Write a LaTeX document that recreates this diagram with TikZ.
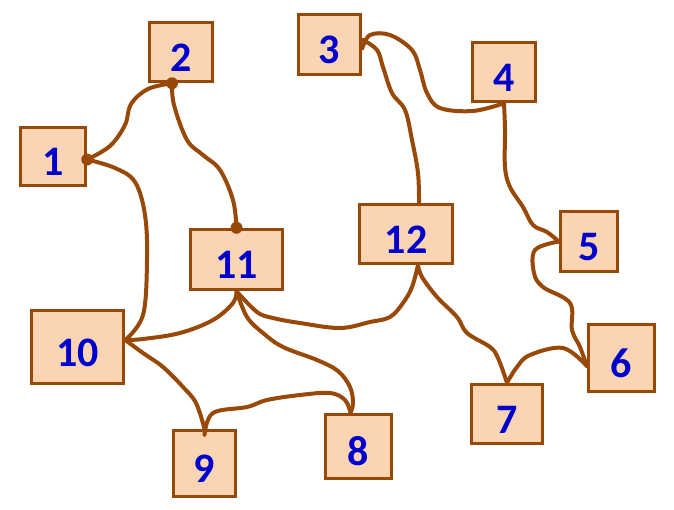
\documentclass[tikz,border=0pt]{standalone}
\usepackage{fontspec}
\newfontfamily\numfont{Carlito}
\definecolor{boxfill}{HTML}{FBD4B4}
\definecolor{wirebrown}{HTML}{984807}
\definecolor{numblue}{HTML}{0000CC}
\usetikzlibrary{positioning}

\tikzset{
    numbox/.style={draw=wirebrown, line width=3.5pt, fill=boxfill, inner sep=0pt,
        text=numblue, font=\numfont\bfseries\fontsize{42}{42}\selectfont,
        text height=38.6pt, text depth=0pt},
    wire/.style={draw=wirebrown, line width=4pt, line cap=round, line join=round},
    joint/.style={fill=wirebrown}
}

\begin{document}
\begin{tikzpicture}[x=1pt, y=-1pt]
    \useasboundingbox (0,0) rectangle (674,509);

    % boxes
    \node[numbox, minimum width=65, minimum height=58] (b1)  at (53,156.5)  {1};
    \node[numbox, minimum width=63, minimum height=59] (b2)  at (181,52)    {2};
    \node[numbox, minimum width=62, minimum height=60] (b3)  at (329.5,44.5) {3};
    \node[numbox, minimum width=63, minimum height=59] (b4)  at (504,72)    {4};
    \node[numbox, minimum width=57, minimum height=60] (b5)  at (589,241.5) {5};
    \node[numbox, minimum width=66, minimum height=67] (b6)  at (621.5,358) {6};
    \node[numbox, minimum width=71, minimum height=59] (b7)  at (507,414)   {7};
    \node[numbox, minimum width=66, minimum height=64] (b8)  at (358.5,446.5) {8};
    \node[numbox, minimum width=62, minimum height=66] (b9)  at (204.5,463.5) {9};
    \node[numbox, minimum width=92, minimum height=73] (b10) at (77.5,347)  {10};
    \node[numbox, minimum width=92, minimum height=60] (b11) at (236.5,259.5) {11};
    \node[numbox, minimum width=93, minimum height=59] (b12) at (406,234)   {12};

    % wires
    \draw[wire] plot[smooth, tension=0.6] coordinates {([yshift=-3pt]b1.east) (110,146) (125,125) (131,104) (148,89) ([xshift=-9pt]b2.south)};
    \draw[wire] plot[smooth, tension=0.6] coordinates {([yshift=-3pt]b1.east) (115,168) (135,182) (145,215) (147,260) (143,315) ([yshift=7pt]b10.east)};
    \draw[wire] plot[smooth, tension=0.6] coordinates {([xshift=-9pt]b2.south) (174,105) (187,140) (203,155) (220,170) (233,200) (b11.north)};
    \draw[wire] plot[smooth, tension=0.6] coordinates {(363,40) (377,50) (383,67) (392,93) (405,110) (412,140) (418,173) ([xshift=13pt]b12.north)};
    \draw[wire] plot[smooth, tension=0.6] coordinates {([yshift=-4pt]b3.east) (370,35) (390,35) (412,50) (420,70) (427,93) (440,108) (473,111) (b4.south)};
    \draw[wire] plot[smooth, tension=0.6] coordinates {(b4.south) (505,130) (505,167) (510,187) (523,207) (533,225) (547,232) (b5.west)};
    \draw[wire] plot[smooth, tension=0.6] coordinates {(b5.west) (535,250) (534,273) (543,287) (570,303) (572,330) (580,347) ([yshift=-8pt]b6.west)};
    \draw[wire] plot[smooth, tension=0.6] coordinates {([yshift=-8pt]b6.west) (563,348) (530,355) (517,367) (b7.north)};
    \draw[wire] plot[smooth, tension=0.6] coordinates {([xshift=12pt]b12.south) (422,277) (437,297) (457,317) (467,333) (490,347) (498,358) (b7.north)};
    \draw[wire] plot[smooth, tension=0.6] coordinates {([xshift=12pt]b12.south) (412,287) (403,303) (390,317) (370,322) (340,328) (300,323) (273,318) (257,312) (b11.south)};
    \draw[wire] plot[smooth, tension=0.6] coordinates {(b11.south) (233,303) (213,320) (180,333) (143,339) ([yshift=7pt]b10.east)};
    \draw[wire] plot[smooth, tension=0.6] coordinates {(b11.south) (247,317) (263,333) (283,347) (317,360) (338,371) (350,387) (353,403) ([xshift=-8pt]b8.north)};
    \draw[wire] plot[smooth, tension=0.6] coordinates {([yshift=7pt]b10.east) (143,353) (163,367) (183,387) (196,403) (b9.north)};
    \draw[wire] plot[smooth, tension=0.6] coordinates {([yshift=-6pt]b9.north) (213,413) (247,407) (267,400) (300,395) (330,393) (345,400) ([xshift=-8pt]b8.north)};

    % joints
    \fill[joint] ([yshift=-3pt]b1.east) circle (6pt);
    \fill[joint] ([xshift=-9pt]b2.south) circle (6pt);
    \fill[joint] (b11.north) circle (6pt);
\end{tikzpicture}
\end{document}
